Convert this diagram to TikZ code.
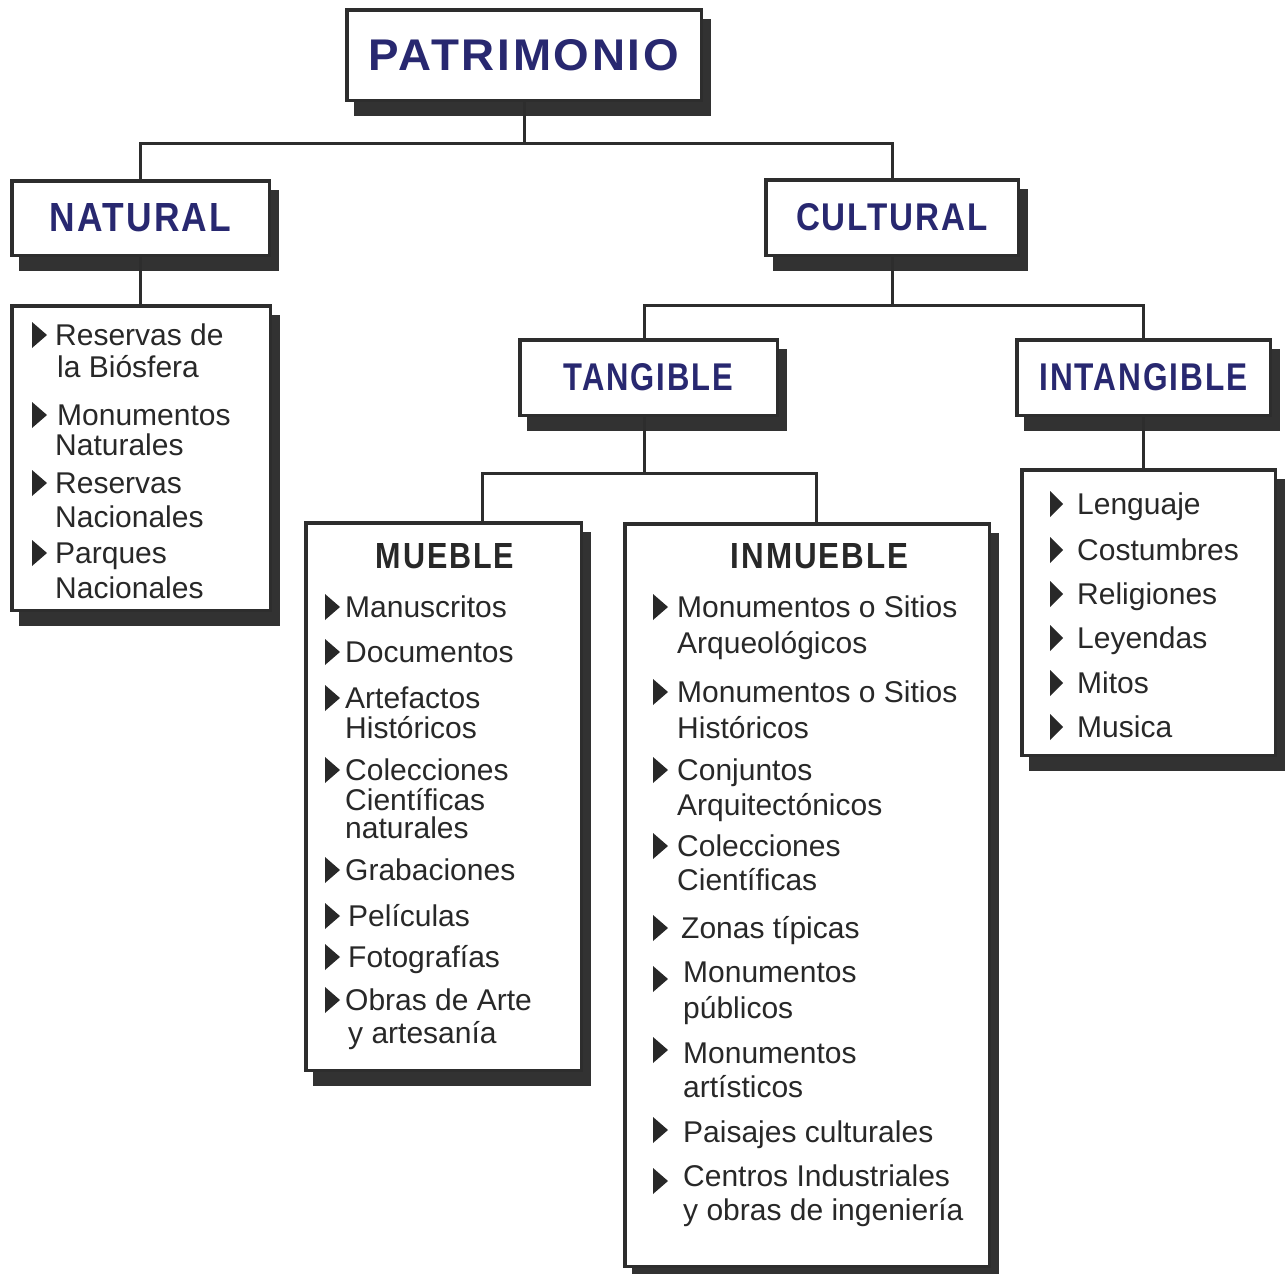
\documentclass[tikz,border=0pt]{standalone}
\usepackage{fontspec}
\setmainfont{Liberation Sans}
\newfontfamily\hdfont{Liberation Sans}[LetterSpace=6.0]
\usepackage{graphicx}
\definecolor{navy}{RGB}{40,40,112}
\definecolor{linec}{RGB}{45,45,45}
\definecolor{shc}{RGB}{50,50,50}
\definecolor{txtc}{RGB}{40,40,40}
\tikzset{
  boxst/.style={draw=linec, line width=3.5pt, fill=white, inner sep=0pt},
  conn/.style={draw=linec, line width=3pt},
  itemtext/.style={text=txtc, font=\fontsize{30}{32}\selectfont, inner sep=0pt},
  hdnavy/.style={text=navy, font=\hdfont\bfseries},
  hdgray/.style={text=txtc, font=\hdfont\bfseries, inner sep=0pt},
}
% name x1 y1 x2 y2 content
\newcommand\pbox[7][]{%
  \fill[shc] (#3+9,#4+11) rectangle (#5+8,#6+14);
  \node[boxst, minimum width={#5-#3-3.5}, minimum height={#6-#4-3.5}, #1] (#2) at ({(#3+#5)/2},{(#4+#6)/2}) {#7};
}
\newcommand\bul[3][15]{\fill[txtc] (#2,#3+3) -- (#2,#3-23) -- (#2+#1,#3-10) -- cycle;}
\newcommand\li[4]{\node[itemtext, anchor=base west] (#1) at (#2,#3) {#4};}
\begin{document}
\begin{tikzpicture}[x=1pt,y=-1pt]
\useasboundingbox[fill=white] (0,0) rectangle (1286,1274);

% boxes
\pbox[hdnavy]{patr}{345}{8}{703}{102}{\resizebox{310pt}{31pt}{PATRIMONIO}}
\pbox[hdnavy]{nat}{10}{179}{271}{257}{\resizebox{181pt}{28pt}{NATURAL}}
\pbox[hdnavy]{cult}{764}{178}{1020}{257}{\resizebox{192pt}{27pt}{CULTURAL}}
\pbox[hdnavy]{tang}{518}{338}{779}{417}{\resizebox{169pt}{27pt}{TANGIBLE}}
\pbox[hdnavy]{intang}{1015}{338}{1272}{417}{\resizebox{208pt}{27pt}{INTANGIBLE}}
\pbox{natlist}{10}{304}{272}{612}{}
\pbox{mueb}{304}{521}{583}{1072}{}
\pbox{inm}{623}{522}{991}{1268}{}
\pbox{intlist}{1020}{468}{1277}{757}{}

% connectors
\coordinate (j1) at (524,143);
\coordinate (j2) at (892,305);
\coordinate (j3) at (644,473);
\draw[conn] (patr.south) -- (j1) -| (nat.north);
\draw[conn] (j1) -| (cult.north);
\draw[conn] (nat.south) -- (nat.south |- natlist.north);
\draw[conn] (cult.south) -- (j2) -| ([xshift=-4.5pt]tang.north);
\draw[conn] (j2) -| (intang.north);
\draw[conn] ([xshift=-4.5pt]tang.south) -- (j3) -| ([xshift=38.5pt]mueb.north);
\draw[conn] (j3) -| ([xshift=9pt]inm.north);
\draw[conn] (intang.south) -- (intang.south |- intlist.north);

% natural list
\bul{32}{345}\li{na1}{55}{345}{Reservas de}\li{na1b}{57}{377}{la Biósfera}
\bul{32}{425}\li{na2}{57}{425}{Monumentos}\li{na2b}{55}{455}{Naturales}
\bul{32}{493}\li{na3}{55}{493}{Reservas}\li{na3b}{55}{527}{Nacionales}
\bul{32}{563}\li{na4}{55}{563}{Parques}\li{na4b}{55}{598}{Nacionales}

% mueble
\node[hdgray, anchor=base] (muebT) at (445,568) {\resizebox{138pt}{25pt}{MUEBLE}};
\bul{325}{617}\li{mu1}{345}{617}{Manuscritos}
\bul{325}{662}\li{mu2}{345}{662}{Documentos}
\bul{325}{708}\li{mu3}{345}{708}{Artefactos}\li{mu3b}{345}{738}{Históricos}
\bul{325}{780}\li{mu4}{345}{780}{Colecciones}\li{mu4b}{345}{810}{Científicas}\li{mu4c}{345}{838}{naturales}
\bul{325}{880}\li{mu5}{345}{880}{Grabaciones}
\bul{325}{926}\li{mu6}{348}{926}{Películas}
\bul{325}{967}\li{mu7}{348}{967}{Fotografías}
\bul{325}{1010}\li{mu8}{345}{1010}{Obras de Arte}\li{mu8b}{348}{1043}{y artesanía}

% inmueble
\node[hdgray, anchor=base] (inmT) at (819.5,568) {\resizebox{177pt}{25pt}{INMUEBLE}};
\bul{653}{617}\li{in1}{677}{617}{Monumentos o Sitios}\li{in1b}{677}{653}{Arqueológicos}
\bul{653}{702}\li{in2}{677}{702}{Monumentos o Sitios}\li{in2b}{677}{738}{Históricos}
\bul{653}{780}\li{in3}{677}{780}{Conjuntos}\li{in3b}{677}{815}{Arquitectónicos}
\bul{653}{856}\li{in4}{677}{856}{Colecciones}\li{in4b}{677}{890}{Científicas}
\bul{653}{938}\li{in5}{681}{938}{Zonas típicas}
\bul{653}{989}\li{in6}{683}{982}{Monumentos}\li{in6b}{683}{1018}{públicos}
\bul{653}{1060}\li{in7}{683}{1063}{Monumentos}\li{in7b}{683}{1097}{artísticos}
\bul{653}{1140}\li{in8}{683}{1142}{Paisajes culturales}
\bul{653}{1191}\li{in9}{683}{1186}{Centros Industriales}\li{in9b}{683}{1220}{y obras de ingeniería}

% intangible list
\bul[13]{1050}{514}\li{it1}{1077}{514}{Lenguaje}
\bul[13]{1050}{560}\li{it2}{1077}{560}{Costumbres}
\bul[13]{1050}{604}\li{it3}{1077}{604}{Religiones}
\bul[13]{1050}{648}\li{it4}{1077}{648}{Leyendas}
\bul[13]{1050}{693}\li{it5}{1077}{693}{Mitos}
\bul[13]{1050}{737}\li{it6}{1077}{737}{Musica}
\end{tikzpicture}
\end{document}
